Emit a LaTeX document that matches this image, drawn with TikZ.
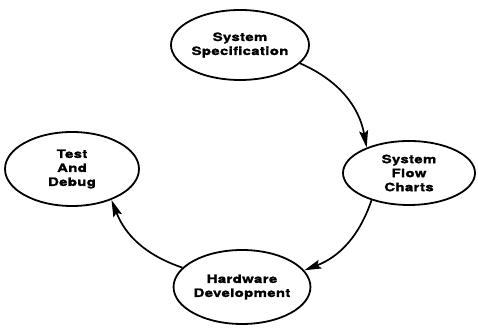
\documentclass[tikz,border=0pt]{standalone}
\usepackage{fontspec}
\newfontfamily\lblfont[FakeStretch=1.3,LetterSpace=3,FakeBold=1.5]{TeX Gyre Heros}
\usetikzlibrary{shapes.geometric,arrows.meta}
\tikzset{
  stage/.style={ellipse, draw=black, line width=1.8pt, inner sep=0pt, align=center,
     font=\lblfont\bfseries\fontsize{11.5}{14}\selectfont},
  flowarrow/.style={line width=1.7pt, -{Stealth[length=17pt,width=9pt,inset=3pt]}}
}
\begin{document}
\begin{tikzpicture}[x=1pt,y=1pt]
\useasboundingbox (0,0) rectangle (478,328);
\node[stage, minimum width=138pt, minimum height=70pt] (spec) at (240,283) {System\\Specification};
\node[stage, minimum width=132pt, minimum height=64pt] (flow) at (409,155) {System\\Flow\\Charts};
\node[stage, minimum width=136pt, minimum height=74pt] (hw) at (242,41) {Hardware\\Development};
\node[stage, minimum width=134pt, minimum height=74pt] (test) at (72,159) {Test\\And\\Debug};
\draw[flowarrow] (spec.-17) to[bend left=28] (flow.149);
\draw[flowarrow] (flow.-144) to[bend left=25] (hw.15);
\draw[flowarrow] (hw.162) to[bend left=25] (test.-38);
\end{tikzpicture}
\end{document}
